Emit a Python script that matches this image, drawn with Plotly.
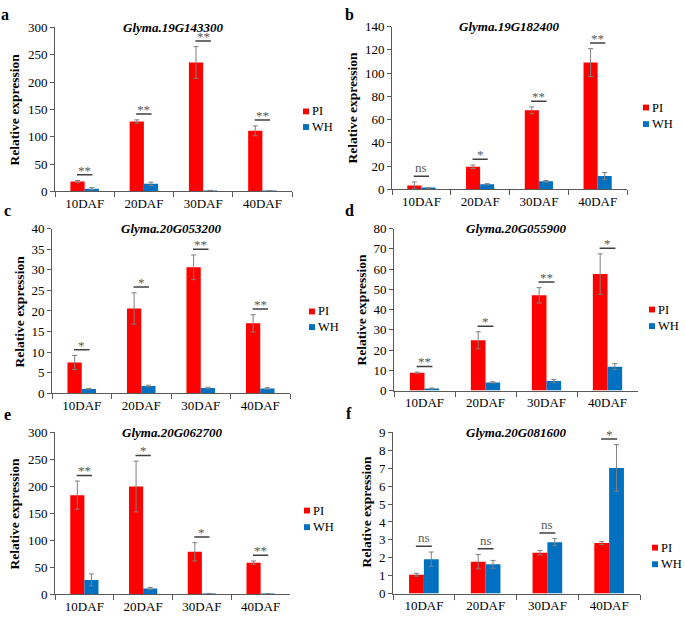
import plotly.graph_objects as go

# ---------------- data ----------------
categories = ["10DAF", "20DAF", "30DAF", "40DAF"]
series_names = ["PI", "WH"]
panel_letters = ["a", "b", "c", "d", "e", "f"]
genes = ["Glyma.19G143300", "Glyma.19G182400", "Glyma.20G053200",
         "Glyma.20G055900", "Glyma.20G062700", "Glyma.20G081600"]

pi_a = [18, 128, 236, 111]
pi_a_err = [2, 3, 29, 9]
wh_a = [5, 14, 1.5, 1]
wh_a_err = [2, 3, 0.5, 0.5]
sig_a = ["**", "**", "**", "**"]

pi_b = [3.5, 19.5, 68, 109]
pi_b_err = [3, 1.5, 3, 12]
wh_b = [1, 4.5, 7, 11.5]
wh_b_err = [0.5, 0.5, 0.7, 3]
sig_b = ["ns", "*", "**", "**"]

pi_c = [7.5, 20.6, 30.6, 17]
pi_c_err = [1.7, 3.8, 3.0, 2.1]
wh_c = [1.1, 1.8, 1.3, 1.2]
wh_c_err = [0.1, 0.2, 0.2, 0.2]
sig_c = ["*", "*", "**", "**"]

pi_d = [8.8, 24.8, 47, 57.5]
pi_d_err = [0.3, 4.2, 3.8, 10]
wh_d = [1, 4, 4.7, 11.8]
wh_d_err = [0.2, 0.3, 0.8, 1.5]
sig_d = ["**", "*", "**", "*"]

pi_e = [184, 200, 79, 59]
pi_e_err = [26, 47, 17, 3]
wh_e = [27, 11, 1.5, 1]
wh_e_err = [11, 2, 0.5, 0.5]
sig_e = ["**", "*", "*", "**"]

pi_f = [1.05, 1.78, 2.28, 2.82]
pi_f_err = [0.08, 0.4, 0.12, 0.08]
wh_f = [1.92, 1.63, 2.87, 7.02]
wh_f_err = [0.4, 0.22, 0.2, 1.3]
sig_f = ["ns", "ns", "ns", "*"]

y_max = [300, 140, 40, 80, 300, 9]
y_dtick = [50, 20, 5, 10, 50, 1]

pi_vals = [pi_a, pi_b, pi_c, pi_d, pi_e, pi_f]
pi_errs = [pi_a_err, pi_b_err, pi_c_err, pi_d_err, pi_e_err, pi_f_err]
wh_vals = [wh_a, wh_b, wh_c, wh_d, wh_e, wh_f]
wh_errs = [wh_a_err, wh_b_err, wh_c_err, wh_d_err, wh_e_err, wh_f_err]
sigs = [sig_a, sig_b, sig_c, sig_d, sig_e, sig_f]

# ---------------- layout / style ----------------
W, H = 685, 622
FONT = "Liberation Serif, Times New Roman, serif"
RED = "#FF0000"
BLUE = "#0070C0"
AX = "#595959"
colors = [RED, BLUE]

def px(x):
    return x / W

def py(y):
    return 1 - y / H

panels = [
    dict(xd=(55, 292), yd=(21, 189), leg=(306, 107, 123), yt=(14, 105), let=(5, 8)),
    dict(xd=(392, 627), yd=(20, 187), leg=(646, 103, 120), yt=(353, 103), let=(349, 8)),
    dict(xd=(52, 290), yd=(227, 396), leg=(312, 312, 328), yt=(19, 312), let=(7, 209)),
    dict(xd=(394, 638), yd=(227, 393), leg=(652, 310, 327), yt=(362, 310), let=(349, 209)),
    dict(xd=(55, 290), yd=(436, 602), leg=(307, 516, 533), yt=(14, 519), let=(7, 418)),
    dict(xd=(393, 640), yd=(436, 601), leg=(655, 554, 571), yt=(367, 517), let=(349, 417)),
]

fig = go.Figure()
shapes = []
annotations = []
layout_axes = {}

for k in range(6):
    p = panels[k]
    sfx = "" if k == 0 else str(k + 1)
    xa, ya = "x" + sfx, "y" + sfx
    bw = 0.24
    for s, (vals, errs) in enumerate([(pi_vals[k], pi_errs[k]), (wh_vals[k], wh_errs[k])]):
        fig.add_trace(go.Bar(
            x=categories, y=vals, name=series_names[s],
            width=bw, offset=-bw if s == 0 else 0,
            marker=dict(color=colors[s], line=dict(width=0)),
            error_y=dict(type="data", array=errs, color="#7f7f7f", thickness=1, width=2.5),
            xaxis=xa, yaxis=ya, showlegend=False,
        ))

    layout_axes["xaxis" + sfx] = dict(
        domain=[px(p["xd"][0]), px(p["xd"][1])], anchor=ya,
        type="category", range=[-0.5, 3.5], tickson="boundaries",
        ticks="outside", ticklen=5, tickcolor=AX, showline=True, linecolor=AX,
        linewidth=1, showgrid=False, tickfont=dict(family=FONT, size=13, color="#000"),
        fixedrange=True,
    )
    layout_axes["yaxis" + sfx] = dict(
        domain=[py(p["yd"][1]), py(p["yd"][0])], anchor=xa,
        range=[0, y_max[k]], dtick=y_dtick[k], tick0=0,
        ticks="outside", ticklen=4, tickcolor=AX, showline=True, linecolor=AX,
        linewidth=1, showgrid=False, zeroline=False,
        tickfont=dict(family=FONT, size=13, color="#000"), fixedrange=True,
    )

    # significance lines
    for i in range(4):
        top = max(pi_vals[k][i] + pi_errs[k][i], wh_vals[k][i] + wh_errs[k][i])
        ly = top + 0.035 * y_max[k]
        shapes.append(dict(type="line", xref=xa, yref=ya, x0=i - 0.13, x1=i + 0.13,
                           y0=ly, y1=ly, line=dict(color="#404040", width=1.5)))
        t = sigs[k][i]
        annotations.append(dict(xref=xa, yref=ya, x=i, y=ly, text=t, showarrow=False,
                                xanchor="center", yanchor="bottom",
                                yshift=-5 if "*" in t else -1,
                                font=dict(family=FONT, size=13, color="#595959")))

    # gene title
    annotations.append(dict(xref="paper", yref="paper",
                            x=px((p["xd"][0] + p["xd"][1]) / 2), y=py(p["yd"][0]),
                            text="<b><i>" + genes[k] + "</i></b>", showarrow=False,
                            xanchor="center", yanchor="middle",
                            font=dict(family=FONT, size=13, color="#000")))
    # y title
    annotations.append(dict(xref="paper", yref="paper", x=px(p["yt"][0]), y=py(p["yt"][1]),
                            text="<b>Relative expression</b>", textangle=-90, showarrow=False,
                            xanchor="center", yanchor="middle",
                            font=dict(family=FONT, size=13.5, color="#000")))
    # panel letter
    annotations.append(dict(xref="paper", yref="paper", x=px(p["let"][0]), y=py(p["let"][1]),
                            text="<b>" + panel_letters[k] + "</b>", showarrow=False,
                            xanchor="center", yanchor="middle",
                            font=dict(family=FONT, size=16, color="#000")))
    # legend
    lx, l1, l2 = p["leg"]
    for s, ly in enumerate([l1, l2]):
        shapes.append(dict(type="rect", xref="paper", yref="paper",
                           x0=px(lx - 3), x1=px(lx + 3), y0=py(ly + 3), y1=py(ly - 3),
                           fillcolor=colors[s], line=dict(width=0)))
        annotations.append(dict(xref="paper", yref="paper", x=px(lx + 4), y=py(ly),
                                text=series_names[s], showarrow=False,
                                xanchor="left", yanchor="middle",
                                font=dict(family=FONT, size=12.5, color="#000")))

fig.update_layout(
    width=W, height=H, margin=dict(l=0, r=0, t=0, b=0),
    paper_bgcolor="white", plot_bgcolor="white",
    showlegend=False, barmode="overlay",
    shapes=shapes, annotations=annotations,
    font=dict(family=FONT),
    **layout_axes,
)

fig.write_html("out.html", config={"displayModeBar": False},
               post_script="document.body.style.margin='0';document.body.style.overflow='hidden';")
